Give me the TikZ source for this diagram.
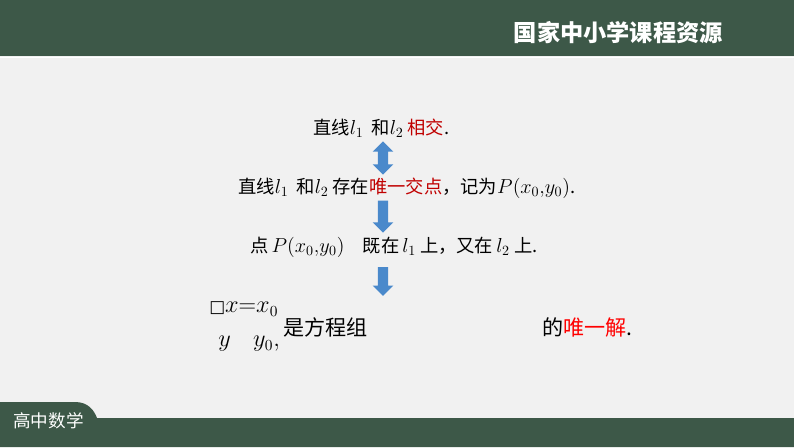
\documentclass[tikz,border=0pt]{standalone}
\usepackage{fontspec}
\usepackage{xcolor}
\usepackage{amsmath}
\usetikzlibrary{positioning}
\usetikzlibrary{shapes.arrows}
\newfontfamily\cjk{Noto Sans CJK SC}
\newfontfamily\symfont{DejaVu Sans}
\newcommand{\vm}[1]{{\fontsize{14.5}{16}\selectfont$#1$}}
\definecolor{bargreen}{RGB}{61,88,72}
\definecolor{pagegray}{RGB}{241,241,241}
\definecolor{arrowblue}{RGB}{74,137,203}
\definecolor{darkred}{RGB}{192,0,0}
\tikzset{
	cjktext/.style={
		anchor=west,
		inner sep=0pt,
		font=\cjk\fontsize{13}{15}\selectfont
	},
	bigtext/.style={
		anchor=west,
		inner sep=0pt,
		font=\cjk\fontsize{15}{17}\selectfont
	},
	blockarrow/.style={
		fill=arrowblue,
		draw=none,
		inner sep=0.12cm,
		minimum width=0.5cm
	}
}
\begin{document}
\begin{tikzpicture}[x=0.025cm,y=-0.025cm]
				\useasboundingbox (0,0) rectangle (794,447);
				% background and bars
				\fill[pagegray] (0,0) rectangle (794,447);
				\fill[bargreen] (0,0) rectangle (794,56);
				\draw[white, line width=0.6pt] (0,57) -- (794,57);
				\fill[bargreen] (0,447) -- (0,402) -- (75,402) .. controls (88,402) and (94,410) .. (97,418) -- (794,418) -- (794,447) -- cycle;
				\node[anchor=east, inner sep=0pt, text=white, font=\cjk\bfseries\fontsize{16.5}{18}\selectfont] (Header) at (723,33) {国家中小学课程资源};
				\node[anchor=west, inner sep=0pt, text=white, font=\cjk\fontsize{12.5}{14}\selectfont] (Subject) at (13,421) {高中数学};
				
				% reasoning chain
				\node[cjktext] (Line1) at (313,128) {直线\vm{l_1}\ \ 和\vm{l_2}\ \textcolor{darkred}{相交}.};
				\node[cjktext] (Line2) at (238,188) {直线\vm{l_1}\ \ 和\vm{l_2}\ 存在\textcolor{darkred}{唯一交点}，记为\vm{P(x_0{,}y_0)}.};
				\node[cjktext] (Line3) at (250,247) {点\,\vm{P(x_0{,}y_0)}\quad 既在\,\vm{l_1}\ 上，又在\,\vm{l_2}\ 上.};
				\node[blockarrow, double arrow, shape border rotate=90, minimum height=0.83cm, double arrow head extend=0.13cm] (Arr1) at (383,158) {};
				\node[blockarrow, single arrow, shape border rotate=270, minimum height=0.8cm, single arrow head extend=0.13cm] (Arr2) at (383,214) {};
				\node[blockarrow, single arrow, shape border rotate=270, minimum height=0.72cm, single arrow head extend=0.13cm] (Arr3) at (383,279) {};
				
				% conclusion
				\node[anchor=west, inner sep=0pt, font=\fontsize{16}{18}\selectfont] (SysX) at (209,309) {{\symfont\fontsize{12}{14}\selectfont □}$x{=}x_0$};
				\node[anchor=west, inner sep=0pt, font=\fontsize{16}{18}\selectfont] (SysY) at (218,344) {$y\quad y_0,$};
				\node[bigtext] (EqText) at (283,327) {是方程组};
				\node[bigtext] (Unique) at (542,327) {的\textcolor{red}{唯一解}.};
			\end{tikzpicture}
\end{document}
